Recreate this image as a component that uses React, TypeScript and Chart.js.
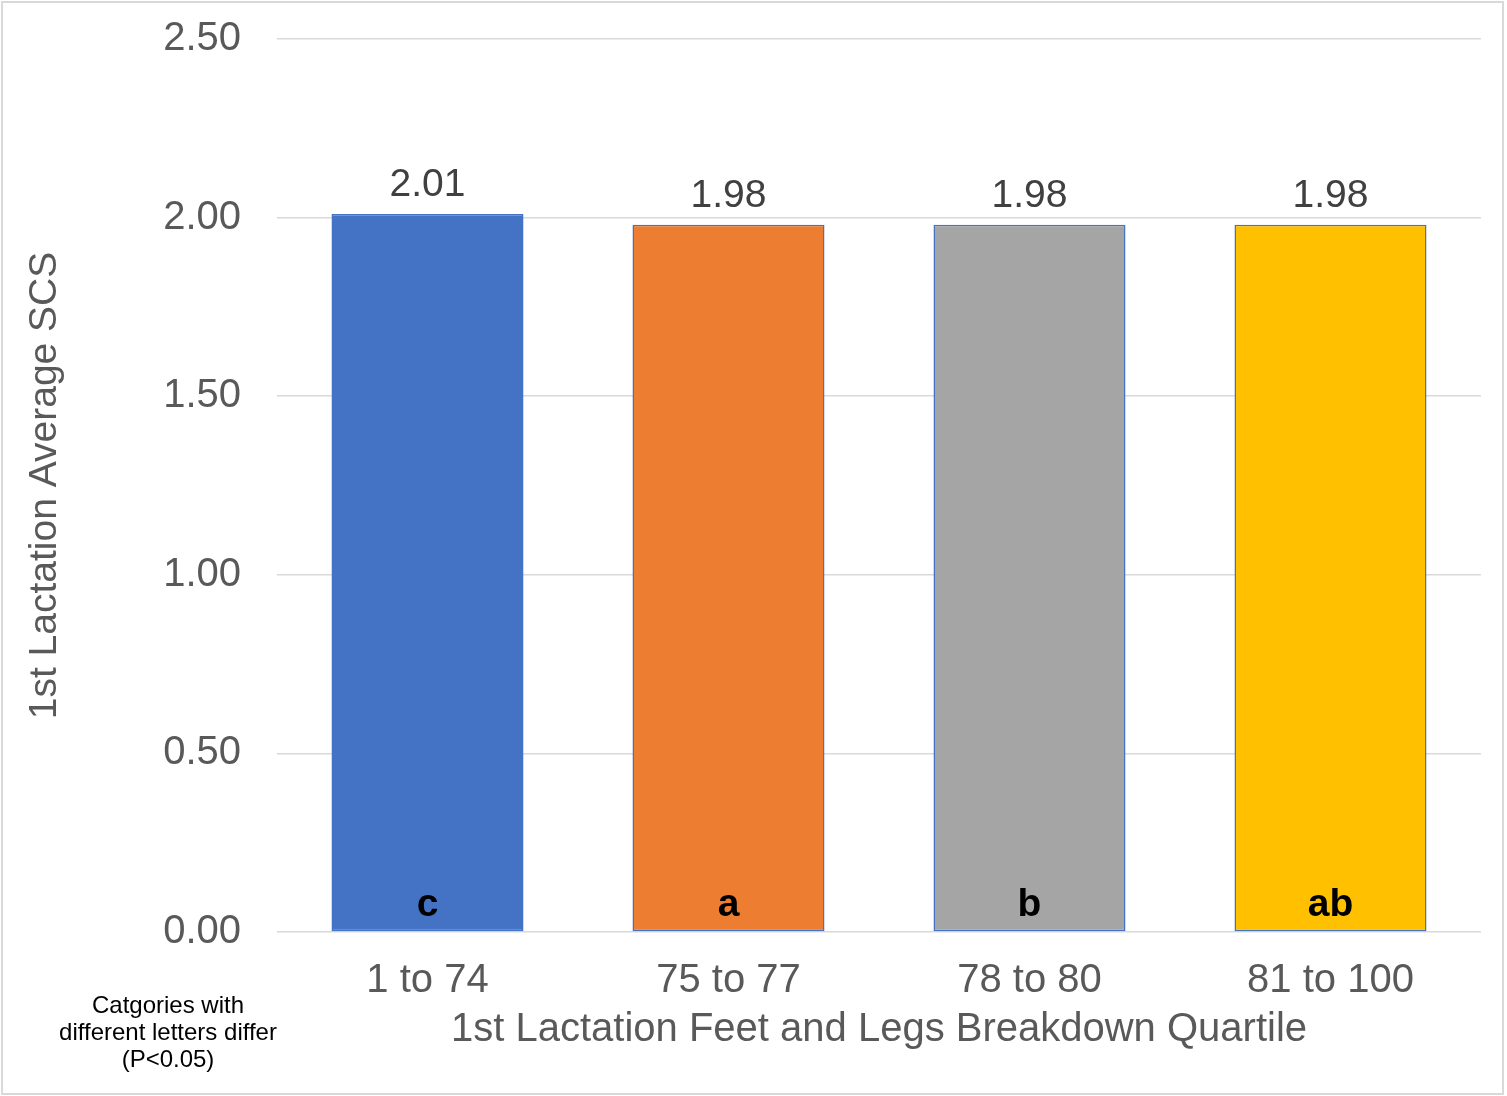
import React, { useEffect, useRef } from "react";
import { Chart, registerables } from "chart.js";

Chart.register(...registerables);

const categories = ["1 to 74", "75 to 77", "78 to 80", "81 to 100"];
const values = [2.01, 1.98, 1.98, 1.98];
const letters = ["c", "a", "b", "ab"];
const barColors = ["#4472C4", "#ED7D31", "#A5A5A5", "#FFC000"];
const yTicks = [0, 0.5, 1.0, 1.5, 2.0, 2.5];
const noteLines = ["Catgories with", "different letters differ", "(P<0.05)"];

const FONT = "'Liberation Sans', Arial, sans-serif";

const extrasPlugin = {
  id: "extras",
  afterDatasetsDraw(chart: any) {
    const { ctx } = chart;
    const meta = chart.getDatasetMeta(0);
    const yScale = chart.scales.y;
    ctx.save();
    meta.data.forEach((bar: any, i: number) => {
      ctx.font = `39px ${FONT}`;
      ctx.fillStyle = "#404040";
      ctx.textAlign = "center";
      ctx.textBaseline = "alphabetic";
      ctx.fillText(values[i].toFixed(2), bar.x, bar.y - 18);
      ctx.font = `bold 39px ${FONT}`;
      ctx.fillStyle = "#000000";
      ctx.fillText(letters[i], bar.x, yScale.getPixelForValue(0) - 16);
    });
    ctx.restore();
  },
  afterDraw(chart: any) {
    const { ctx } = chart;
    ctx.save();
    ctx.font = `24px ${FONT}`;
    ctx.fillStyle = "#000000";
    ctx.textAlign = "center";
    ctx.textBaseline = "middle";
    noteLines.forEach((t, i) => ctx.fillText(t, 168, 1006 + i * 27));
    ctx.strokeStyle = "#d9d9d9";
    ctx.lineWidth = 2;
    ctx.strokeRect(2, 2, 1501, 1092);
    ctx.restore();
  },
};

export default function App() {
  const ref = useRef<HTMLCanvasElement | null>(null);
  useEffect(() => {
    if (!ref.current) return;
    const chart = new Chart(ref.current, {
      type: "bar",
      data: {
        labels: categories,
        datasets: [
          {
            data: values,
            backgroundColor: barColors,
            borderColor: "#4472C4",
            borderWidth: 1.5,
            borderSkipped: false,
            categoryPercentage: 1,
            barPercentage: 0.638,
          },
        ],
      },
      options: {
        responsive: false,
        animation: false,
        devicePixelRatio: 1,
        layout: { padding: { left: 8, right: 26, top: 39, bottom: 8 } },
        plugins: { legend: { display: false }, tooltip: { enabled: false } },
        scales: {
          x: {
            grid: { display: false },
            border: { display: false },
            ticks: {
              color: "#595959",
              font: { family: FONT, size: 40 },
              padding: 17,
              maxRotation: 0,
            },
            title: {
              display: true,
              text: "1st Lactation Feet and Legs Breakdown Quartile",
              color: "#595959",
              font: { family: FONT, size: 40 },
              padding: { top: 0, bottom: 34 },
            },
            afterFit(scale: any) {
              scale.height = 156;
              scale.paddingLeft = 0;
              scale.paddingRight = 0;
            },
          },
          y: {
            min: 0,
            max: 2.5,
            afterBuildTicks(scale: any) {
              scale.ticks = yTicks.map((v) => ({ value: v }));
            },
            grid: { color: "#d9d9d9", lineWidth: 1.5, drawTicks: false },
            border: { display: false },
            ticks: {
              color: "#595959",
              font: { family: FONT, size: 40 },
              padding: 36,
              callback: (v: any) => Number(v).toFixed(2),
            },
            title: {
              display: true,
              text: "1st Lactation Average SCS",
              color: "#595959",
              font: { family: FONT, size: 39 },
              padding: { top: 14, bottom: 0 },
            },
            afterFit(scale: any) {
              scale.width = 269;
              scale.paddingTop = 0;
              scale.paddingBottom = 0;
            },
          },
        },
      },
      plugins: [extrasPlugin],
    });
    return () => chart.destroy();
  }, []);
  return (
    <div style={{ position: "absolute", left: 0, top: 0, width: 1507, height: 1096, background: "#fff" }}>
      <canvas ref={ref} width={1507} height={1096} />
    </div>
  );
}
